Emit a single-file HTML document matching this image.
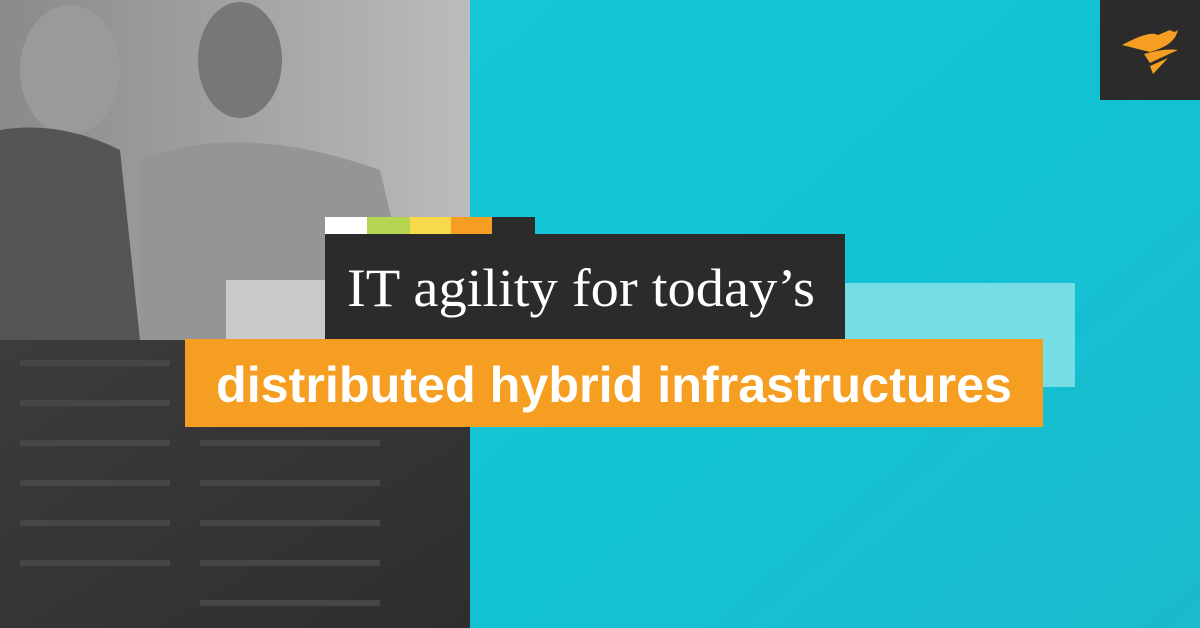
<!DOCTYPE html>
<html><head><style>html,body{margin:0;padding:0;background:#fff}svg{display:block}</style></head>
<body>
<svg width="1200" height="628" viewBox="0 0 1200 628" xmlns="http://www.w3.org/2000/svg">
<defs>
<linearGradient id="cy" x1="0" y1="0" x2="1" y2="1">
<stop offset="0" stop-color="#14c8d8"/><stop offset="0.5" stop-color="#12c2d4"/><stop offset="1" stop-color="#1bbacc"/>
</linearGradient>
<linearGradient id="ph" x1="0" y1="0" x2="1" y2="0">
<stop offset="0" stop-color="#8a8a8a"/><stop offset="0.5" stop-color="#a2a2a2"/><stop offset="1" stop-color="#bcbcbc"/>
</linearGradient>
<linearGradient id="sv" x1="0" y1="0" x2="1" y2="1">
<stop offset="0" stop-color="#3c3c3c"/><stop offset="1" stop-color="#2e2e2e"/>
</linearGradient>
</defs>
<rect x="470" y="0" width="730" height="628" fill="url(#cy)"/>
<rect x="0" y="0" width="470" height="340" fill="url(#ph)"/>
<ellipse cx="70" cy="70" rx="50" ry="65" fill="#9a9a9a"/>
<path d="M0 130 Q60 120 120 150 L140 340 L0 340 Z" fill="#555"/>
<ellipse cx="240" cy="60" rx="42" ry="58" fill="#777"/>
<path d="M140 160 Q240 120 380 170 L420 340 L140 340 Z" fill="#959595"/>
<rect x="0" y="340" width="470" height="288" fill="url(#sv)"/>
<g fill="#464646">
<rect x="20" y="360" width="150" height="6"/><rect x="20" y="400" width="150" height="6"/><rect x="20" y="440" width="150" height="6"/>
<rect x="20" y="480" width="150" height="6"/><rect x="20" y="520" width="150" height="6"/><rect x="20" y="560" width="150" height="6"/>
<rect x="200" y="440" width="180" height="6"/><rect x="200" y="480" width="180" height="6"/><rect x="200" y="520" width="180" height="6"/><rect x="200" y="560" width="180" height="6"/><rect x="200" y="600" width="180" height="6"/>
</g>
<rect x="226" y="280" width="99" height="59" fill="#d4d4d4" opacity="0.85"/>
<rect x="845" y="283" width="230" height="104" fill="#8fe3ea" opacity="0.8"/>
<rect x="325" y="217" width="42" height="17" fill="#ffffff"/>
<rect x="367" y="217" width="43" height="17" fill="#b5d552"/>
<rect x="410" y="217" width="41" height="17" fill="#f8d94a"/>
<rect x="451" y="217" width="41" height="17" fill="#f59e22"/>
<rect x="492" y="217" width="43" height="17" fill="#2b2b2b"/>
<rect x="325" y="234" width="520" height="105" fill="#2b2b2b"/>
<text x="347" y="306" font-family="Liberation Serif, serif" font-size="54" fill="#fff" textLength="468" lengthAdjust="spacingAndGlyphs">IT agility for today’s</text>
<rect x="185" y="339" width="858" height="88" fill="#f59e22"/>
<text x="216" y="402" font-family="Liberation Sans, sans-serif" font-weight="bold" font-size="50" fill="#fff" textLength="796" lengthAdjust="spacingAndGlyphs">distributed hybrid infrastructures</text>
<rect x="1100" y="0" width="100" height="100" fill="#2b2b2b"/>
<path d="M1122 45 Q1150 30 1158 35 L1170 30 Q1176 34 1178 29 Q1176 45 1150 52 Z" fill="#f59e22"/>
<path d="M1144 54 Q1165 48 1178 50 Q1160 58 1150 63 Z" fill="#f59e22"/>
<path d="M1150 66 L1168 58 L1153 74 Z" fill="#f59e22"/>
</svg>
</body></html>
